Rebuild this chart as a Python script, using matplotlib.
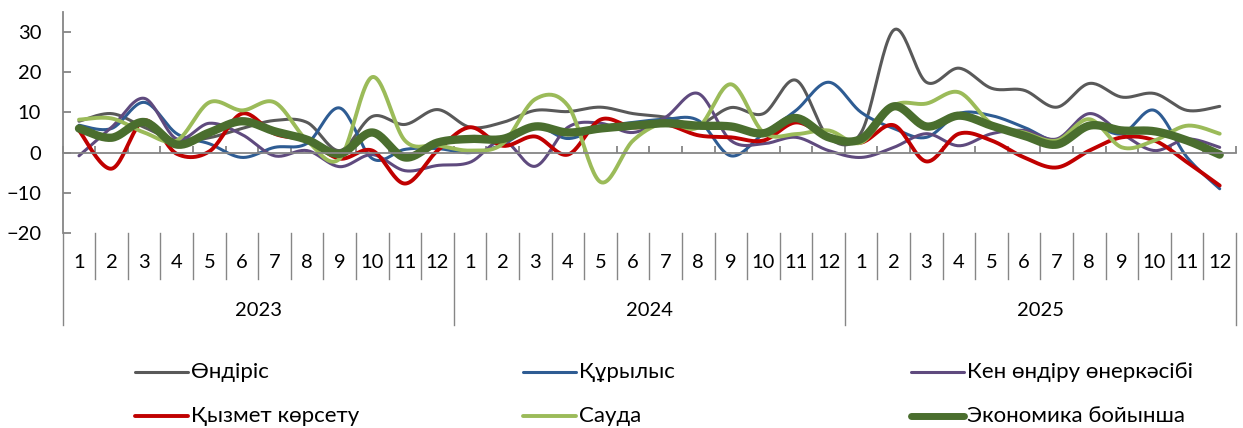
import numpy as np
import matplotlib
matplotlib.use("Agg")
import matplotlib.pyplot as plt
from matplotlib.lines import Line2D
import matplotlib.transforms as mtransforms

plt.rcParams['font.family'] = ['Lato', 'DejaVu Sans']

years = ["2023", "2024", "2025"]
months = [str(m) for m in range(1, 13)]

ondiris = [7.8, 9.7, 6.3, 3.0, 3.7, 6.0, 8.0, 7.5, 0.5, 9.0, 7.0, 10.7,
           6.3, 7.5, 10.5, 10.2, 11.3, 9.7, 8.8, 7.0, 11.2, 9.7, 18.0, 3.8,
           5.0, 30.5, 17.5, 21.0, 16.0, 15.5, 11.3, 17.2, 13.8, 14.7, 10.5, 11.5]
qurylys = [6.8, 6.0, 12.5, 4.7, 2.2, -1.2, 1.3, 2.3, 11.1, -1.5, 0.8, 1.0,
           0.0, 2.0, 6.5, 3.5, 6.3, 7.5, 8.3, 8.0, -0.8, 4.7, 10.5, 17.5,
           10.0, 6.0, 3.8, 9.7, 9.2, 6.3, 3.0, 6.8, 4.7, 10.5, -1.2, -9.0]
ken = [-0.8, 6.3, 13.5, 3.4, 7.3, 4.5, -0.8, 0.5, -3.5, -0.5, -4.5, -3.2,
       -2.4, 3.0, -3.4, 6.3, 7.3, 5.0, 8.8, 14.7, 3.0, 2.2, 3.8, 0.5,
       -1.2, 1.3, 4.7, 1.7, 4.7, 5.5, 3.4, 9.7, 4.7, 0.5, 3.4, 1.3]
qyzmet = [5.5, -4.0, 8.0, -0.3, 0.3, 9.7, 4.7, 3.0, -1.5, 0.5, -7.7, 0.5,
          6.3, 1.7, 4.0, -0.5, 8.2, 6.3, 7.0, 4.3, 3.8, 3.0, 7.5, 3.8,
          2.5, 6.8, -2.2, 4.7, 3.0, -1.2, -3.7, 0.5, 3.8, 3.0, -2.4, -8.2]
sauda = [8.2, 8.5, 5.0, 3.0, 12.5, 10.5, 12.5, 3.0, -1.5, 18.8, 3.0, 1.8,
         0.5, 2.2, 13.3, 11.7, -7.3, 3.0, 7.5, 6.3, 17.0, 5.0, 4.6, 5.5,
         2.5, 11.7, 12.2, 15.0, 7.2, 5.0, 3.0, 8.3, 1.3, 3.0, 6.7, 4.7]
ekonomika = [6.0, 3.7, 7.6, 2.0, 5.0, 7.8, 5.3, 3.2, -0.3, 5.0, -1.2, 2.5,
             3.4, 3.4, 6.5, 5.0, 6.0, 6.7, 7.3, 6.7, 6.5, 4.8, 8.6, 3.8,
             3.4, 11.5, 6.5, 9.2, 6.7, 4.2, 2.0, 6.7, 5.5, 5.3, 3.0, -0.5]

series_names = ["Өндіріс", "Құрылыс", "Кен өндіру өнеркәсібі",
                "Қызмет көрсету", "Сауда", "Экономика бойынша"]
series_values = [ondiris, qurylys, ken, qyzmet, sauda, ekonomika]
series_colors = ["#595959", "#2E5C93", "#5F4A7E", "#C00000", "#9BBB59", "#4A6E2E"]
series_widths = [2.2, 2.2, 2.2, 2.8, 2.8, 6.0]


def smooth(xs, ys, n=24):
    xs = np.asarray(xs, float)
    ys = np.asarray(ys, float)
    pts = np.column_stack([xs, ys])
    out = []
    m = len(pts)
    for i in range(m - 1):
        p0 = pts[i - 1] if i > 0 else pts[i]
        p1 = pts[i]
        p2 = pts[i + 1]
        p3 = pts[i + 2] if i + 2 < m else pts[i + 1]
        b1 = p1 + (p2 - p0) / 6.0
        b2 = p2 - (p3 - p1) / 6.0
        t = np.linspace(0, 1, n, endpoint=(i == m - 2))[:, None]
        seg = ((1 - t) ** 3) * p1 + 3 * ((1 - t) ** 2) * t * b1 + 3 * (1 - t) * t ** 2 * b2 + t ** 3 * p2
        out.append(seg)
    out = np.vstack(out)
    return out[:, 0], out[:, 1]


fig = plt.figure(figsize=(12.43, 4.28), dpi=100)
W, H = 1243, 428
ax_left, ax_right = 62.7, 1236.0
ax_top, ax_bot = 11.9, 233.0
ax = fig.add_axes([ax_left / W, (H - ax_bot) / H, (ax_right - ax_left) / W, (ax_bot - ax_top) / H])

n = len(ekonomika)
x = np.arange(n)
for vals, c, lw in zip(series_values, series_colors, series_widths):
    sx, sy = smooth(x, vals)
    ax.plot(sx, sy, color=c, lw=lw, solid_capstyle='round', solid_joinstyle='round')

ax.set_xlim(-0.5, n - 0.5)
ax.set_ylim(-20, 35)
ax.set_yticks([-20, -10, 0, 10, 20, 30])
axis_col = "#868686"
for s in ['top', 'right']:
    ax.spines[s].set_visible(False)
ax.spines['left'].set_color(axis_col)
ax.spines['left'].set_linewidth(1.3)
ax.spines['bottom'].set_position(('data', 0))
ax.spines['bottom'].set_color(axis_col)
ax.spines['bottom'].set_linewidth(1.3)
ax.set_xticks(np.arange(-0.5, n, 1.0))
ax.tick_params(axis='x', direction='in', length=5, width=1.3, color=axis_col, labelbottom=False)
ax.tick_params(axis='y', direction='in', length=6, width=1.3, color=axis_col, labelsize=14.5,
               labelcolor='black', pad=15.5)

# multi-level category axis
trans = mtransforms.blended_transform_factory(ax.transData, ax.transAxes)
hpx = ax_bot - ax_top
def ay(p):
    return (ax_bot - p) / hpx

for b in np.arange(-0.5, n, 1.0):
    if abs(((b + 0.5) % 12)) < 1e-9:
        ax.plot([b, b], [0, ay(325)], transform=trans, color=axis_col, lw=1.0, clip_on=False)
    else:
        ax.plot([b, b], [0, ay(279)], transform=trans, color=axis_col, lw=1.0, clip_on=False)

for i in range(n):
    ax.text(i, ay(263), months[i % 12], transform=trans, ha='center', va='center', fontsize=14.5)
for k, yr in enumerate(years):
    ax.text(k * 12 + 5.5, ay(310), yr, transform=trans, ha='center', va='center', fontsize=14.5)

# legend
col_x = [135, 523, 911]
row_y = [372, 416]
for idx, (name, c, lw) in enumerate(zip(series_names, series_colors, series_widths)):
    r, cc = divmod(idx, 3)
    x0 = col_x[cc]
    yy = (H - row_y[r]) / H
    fig.add_artist(Line2D([x0 / W, (x0 + 53) / W], [yy, yy], transform=fig.transFigure,
                          color=c, lw=min(lw, 3.0) if idx < 5 else 5.0, solid_capstyle='round'))
    fig.text((x0 + 56) / W, yy, name, ha='left', va='center', fontsize=16)

fig.savefig("out.png", dpi=100)
